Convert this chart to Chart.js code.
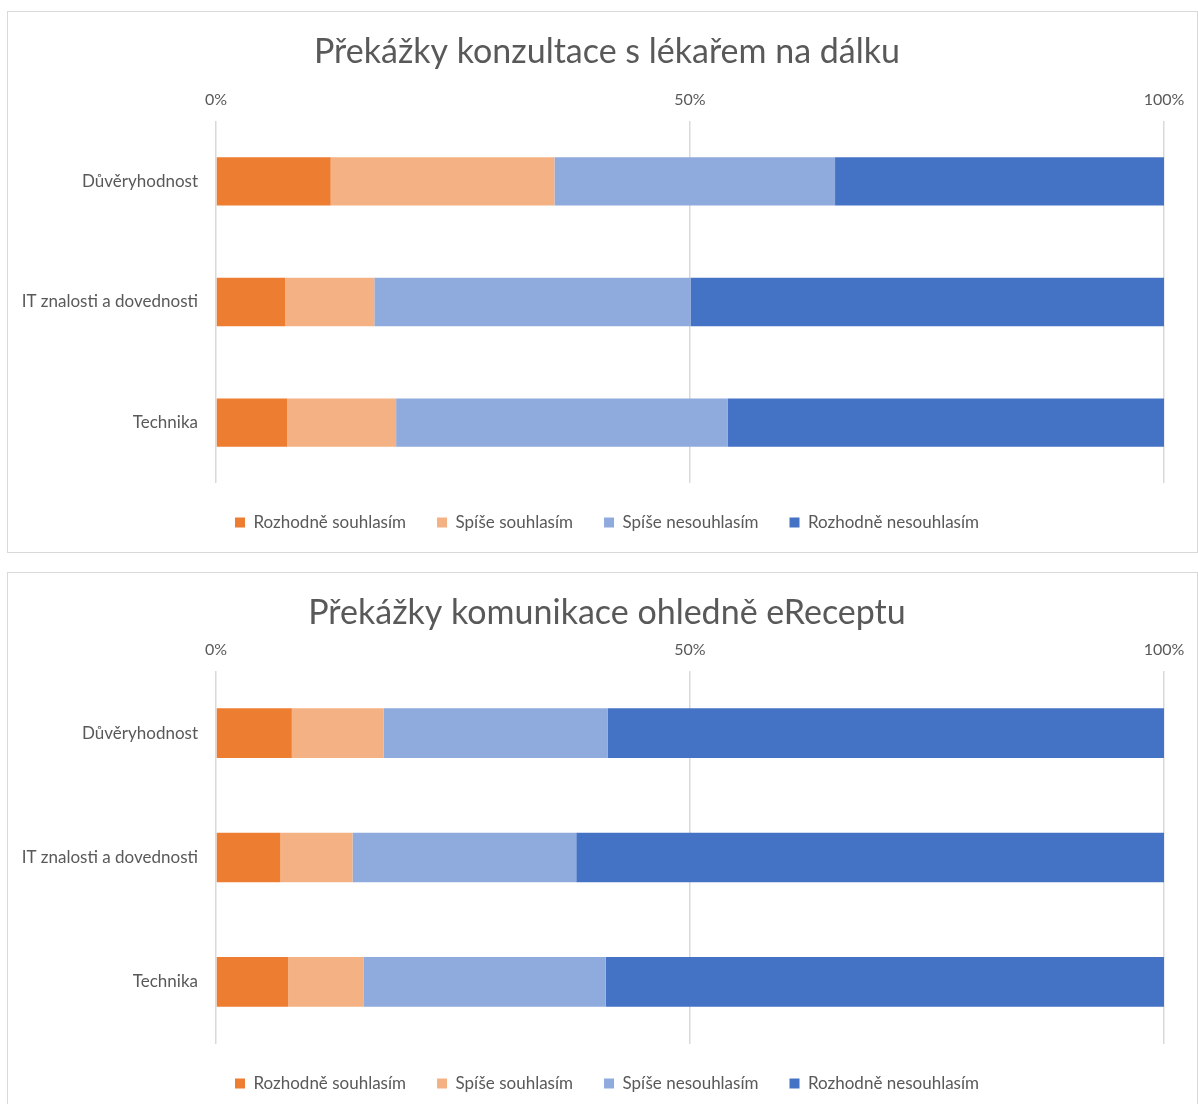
<!DOCTYPE html>
<html>
<head>
<meta charset="utf-8">
<script src="https://cdn.jsdelivr.net/npm/chart.js@4.4.1/dist/chart.umd.min.js"></script>
<style>
  body { margin: 0; background: #fff; }
  .box { position: absolute; left: 7px; width: 1189px; height: 540px; border: 1px solid #d9d9d9; background: #fff; }
  #box1 { top: 11px; }
  #box2 { top: 572px; }
  canvas { display: block; }
</style>
</head>
<body>
<div class="box" id="box1"><canvas id="chart1" width="1189" height="540"></canvas></div>
<div class="box" id="box2"><canvas id="chart2" width="1189" height="540"></canvas></div>
<script>
const categories = ['Důvěryhodnost', 'IT znalosti a dovednosti', 'Technika'];
const seriesNames = ['Rozhodně souhlasím', 'Spíše souhlasím', 'Spíše nesouhlasím', 'Rozhodně nesouhlasím'];
const colors = ['#ed7d31', '#f4b183', '#8faadc', '#4472c4'];

// chart 1 - konzultace s lékařem (percent per category)
const konzultaceRozhodneSouhlasim = [12.1, 7.3, 7.5];
const konzultaceSpiseSouhlasim = [23.6, 9.4, 11.5];
const konzultaceSpiseNesouhlasim = [29.6, 33.4, 35.0];
const konzultaceRozhodneNesouhlasim = [34.7, 49.9, 46.0];

// chart 2 - eRecept
const ereceptRozhodneSouhlasim = [8.0, 6.8, 7.6];
const ereceptSpiseSouhlasim = [9.7, 7.6, 8.0];
const ereceptSpiseNesouhlasim = [23.6, 23.6, 25.5];
const ereceptRozhodneNesouhlasim = [58.7, 62.0, 58.9];

const xTicks = [0, 50, 100];

const fontFamily = 'Lato, "Open Sans", sans-serif';
const grey = '#595959';

// title + legend are centred on the whole box in Excel, not on the plot
const shiftCentre = {
    id: 'shiftCentre',
    afterLayout(chart) {
        if (chart.titleBlock) chart.titleBlock.left += 42;
        if (chart.legend) chart.legend.left += 42;
    }
};

function makeChart(id, title, values, titleGap) {
    const ctx = document.getElementById(id).getContext('2d');
    return new Chart(ctx, {
        type: 'bar',
        data: {
            labels: categories,
            datasets: values.map((v, i) => ({
                label: seriesNames[i],
                data: v,
                backgroundColor: colors[i],
                borderWidth: 0,
                barPercentage: 0.4,
                categoryPercentage: 1
            }))
        },
        plugins: [shiftCentre],
        options: {
            indexAxis: 'y',
            responsive: false,
            animation: false,
            layout: { padding: { left: 0, right: 33, top: 12, bottom: 11 } },
            plugins: {
                title: {
                    display: true,
                    text: title,
                    color: grey,
                    font: { family: fontFamily, size: 34, weight: 'normal' },
                    padding: { top: 8, bottom: titleGap }
                },
                legend: {
                    position: 'bottom',
                    labels: {
                        color: grey,
                        boxWidth: 10,
                        boxHeight: 10,
                        padding: 31,
                        font: { family: fontFamily, size: 17 }
                    }
                },
                tooltip: { enabled: false }
            },
            scales: {
                x: {
                    position: 'top',
                    stacked: true,
                    min: 0,
                    max: 100,
                    afterBuildTicks: (scale) => { scale.ticks = xTicks.map(v => ({ value: v })); },
                    ticks: {
                        color: grey,
                        padding: 12,
                        font: { family: fontFamily, size: 16 },
                        callback: (v) => v + '%'
                    },
                    grid: { color: '#d9d9d9', lineWidth: 1.5, drawTicks: false, tickLength: 0 },
                    border: { display: false }
                },
                y: {
                    stacked: true,
                    afterFit: (scale) => { scale.width = 208; },
                    ticks: {
                        color: grey,
                        padding: 10,
                        font: { family: fontFamily, size: 17 }
                    },
                    grid: { display: false },
                    border: { display: false }
                }
            }
        }
    });
}

makeChart('chart1', 'Překážky konzultace s lékařem na dálku',
    [konzultaceRozhodneSouhlasim, konzultaceSpiseSouhlasim, konzultaceSpiseNesouhlasim, konzultaceRozhodneNesouhlasim], 5);
makeChart('chart2', 'Překážky komunikace ohledně eReceptu',
    [ereceptRozhodneSouhlasim, ereceptSpiseSouhlasim, ereceptSpiseNesouhlasim, ereceptRozhodneNesouhlasim], -6);
</script>
</body>
</html>
